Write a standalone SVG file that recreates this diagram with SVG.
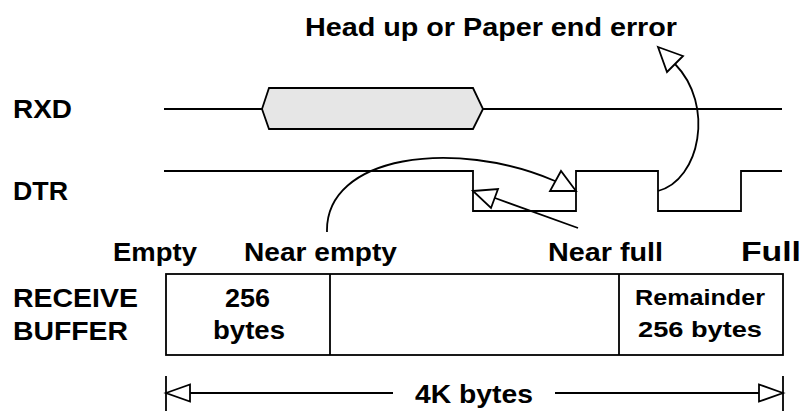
<svg xmlns="http://www.w3.org/2000/svg" width="806" height="412" viewBox="0 0 806 412">
<style>
.ln{fill:none;stroke:#000;stroke-width:1.8;stroke-linejoin:miter}
.ah{fill:#fff;stroke:#000;stroke-width:1.8;stroke-linejoin:miter}
.t{font-family:"Liberation Sans",Arial,sans-serif;font-weight:bold;fill:#000}
.big{font-size:26px}
.sm{font-size:22px}
</style>
<rect width="806" height="412" fill="#fff"/>
<g id="title"><text class="t big" x="305" y="36" textLength="372" lengthAdjust="spacingAndGlyphs">Head up or Paper end error</text></g>
<g id="rxd">
<text class="t big" x="13" y="118" textLength="59" lengthAdjust="spacingAndGlyphs">RXD</text>
<path class="ln" d="M164,109 H262 M483,109 H782"/>
<polygon points="262,109 269,88 473,88 483,109 473,129 269,129" fill="#e6e6e6" stroke="#000" stroke-width="1.8"/>
</g>
<g id="dtr">
<text class="t big" x="13" y="200" textLength="55" lengthAdjust="spacingAndGlyphs">DTR</text>
<path class="ln" d="M164,171 H473 V211 H576 V171 H658 V211 H741 V171 H782"/>
</g>
<g id="labels">
<text class="t big" x="113" y="261" textLength="84" lengthAdjust="spacingAndGlyphs">Empty</text>
<text class="t big" x="244" y="261" textLength="153" lengthAdjust="spacingAndGlyphs">Near empty</text>
<text class="t big" x="548" y="261" textLength="115" lengthAdjust="spacingAndGlyphs">Near full</text>
<text class="t big" x="741" y="261" textLength="60" lengthAdjust="spacingAndGlyphs" style="font-size:27px">Full</text>
</g>
<g id="buffer">
<text class="t big" x="13" y="307" textLength="125" lengthAdjust="spacingAndGlyphs">RECEIVE</text>
<text class="t big" x="13" y="340" textLength="115" lengthAdjust="spacingAndGlyphs">BUFFER</text>
<rect class="ln" x="166" y="274" width="617" height="81"/>
<path class="ln" d="M330,274 V355 M619,274 V355"/>
<text class="t big" x="225" y="307" textLength="45" lengthAdjust="spacingAndGlyphs">256</text>
<text class="t big" x="213" y="339" textLength="72" lengthAdjust="spacingAndGlyphs">bytes</text>
<text class="t sm" x="635" y="305" textLength="130" lengthAdjust="spacingAndGlyphs">Remainder</text>
<text class="t sm" x="638" y="337" textLength="124" lengthAdjust="spacingAndGlyphs">256 bytes</text>
</g>
<g id="dimension">
<path class="ln" d="M166,376 V411 M783,376 V411 M166,393 H393 M555,393 H783"/>
<polygon class="ah" points="166,393 190,384.5 190,401.5"/>
<polygon class="ah" points="783,393 759,384.5 759,401.5"/>
<text class="t big" x="415" y="403" textLength="118" lengthAdjust="spacingAndGlyphs">4K bytes</text>
</g>
<g id="connectors">
<path class="ln" d="M327,232 C325,155 455,138 555,181"/>
<polygon class="ah" points="576,191 550,191 561,171"/>
<path class="ln" d="M578,228 L495,198"/>
<polygon class="ah" points="473,191 498,189 491,208"/>
<path class="ln" d="M658,191 C700,180 715,105 675,64"/>
<polygon class="ah" points="658,47 683,56 667,72"/>
</g>
</svg>
